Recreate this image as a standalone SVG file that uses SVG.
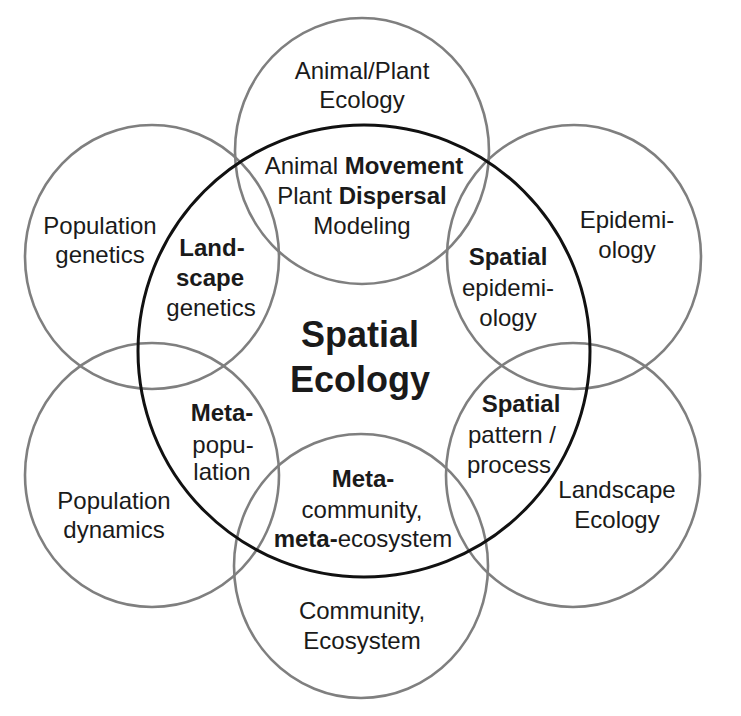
<svg xmlns="http://www.w3.org/2000/svg" width="741" height="716" viewBox="0 0 741 716">
<style>
.bg{fill:#ffffff}
.outer{fill:none;stroke:#7f7f7f;stroke-width:2.6}
.core{fill:none;stroke:#111111;stroke-width:3}
text{font-family:"Liberation Sans",Arial,sans-serif;font-size:24px;fill:#1a1a1a;text-anchor:middle}
.b{font-weight:bold}
.big{font-size:36px;font-weight:bold}
</style>
<rect class="bg" x="0" y="0" width="741" height="716"/>
<g id="connectors"></g>
<g id="n-top">
<ellipse class="outer" cx="362" cy="151" rx="127" ry="133"/>
<text x="362" y="79">Animal/Plant</text>
<text x="362" y="108">Ecology</text>
</g>
<g id="n-upper-right">
<ellipse class="outer" cx="574" cy="257" rx="127" ry="132"/>
<text x="627" y="228">Epidemi-</text>
<text x="627" y="258">ology</text>
</g>
<g id="n-lower-right">
<ellipse class="outer" cx="573" cy="475" rx="127" ry="132"/>
<text x="617" y="498">Landscape</text>
<text x="617" y="528">Ecology</text>
</g>
<g id="n-bottom">
<ellipse class="outer" cx="361" cy="566" rx="127" ry="132"/>
<text x="362" y="619">Community,</text>
<text x="362" y="649">Ecosystem</text>
</g>
<g id="n-lower-left">
<ellipse class="outer" cx="152" cy="475" rx="127" ry="132"/>
<text x="114" y="509">Population</text>
<text x="114" y="538">dynamics</text>
</g>
<g id="n-upper-left">
<ellipse class="outer" cx="152" cy="257" rx="127" ry="132"/>
<text x="100" y="234">Population</text>
<text x="100" y="263">genetics</text>
</g>
<g id="n-center">
<ellipse class="core" cx="364" cy="351" rx="226" ry="226"/>
<text class="big" x="360" y="347">Spatial</text>
<text class="big" x="360" y="392">Ecology</text>
</g>
<g id="n-overlap-top">
<text x="364" y="174">Animal <tspan class="b">Movement</tspan></text>
<text x="362" y="204">Plant <tspan class="b">Dispersal</tspan></text>
<text x="362" y="234">Modeling</text>
</g>
<g id="n-overlap-upper-left">
<text class="b" x="212" y="256">Land-</text>
<text class="b" x="210" y="286">scape</text>
<text x="211" y="316">genetics</text>
</g>
<g id="n-overlap-upper-right">
<text class="b" x="508" y="265">Spatial</text>
<text x="508" y="296">epidemi-</text>
<text x="508" y="326">ology</text>
</g>
<g id="n-overlap-lower-right">
<text class="b" x="521" y="412">Spatial</text>
<text x="512" y="443">pattern /</text>
<text x="509" y="473">process</text>
</g>
<g id="n-overlap-bottom">
<text class="b" x="363" y="487">Meta-</text>
<text x="362" y="518">community,</text>
<text x="363" y="547"><tspan class="b">meta-</tspan>ecosystem</text>
</g>
<g id="n-overlap-lower-left">
<text class="b" x="222" y="421">Meta-</text>
<text x="223" y="453">popu-</text>
<text x="222" y="480">lation</text>
</g>
</svg>
